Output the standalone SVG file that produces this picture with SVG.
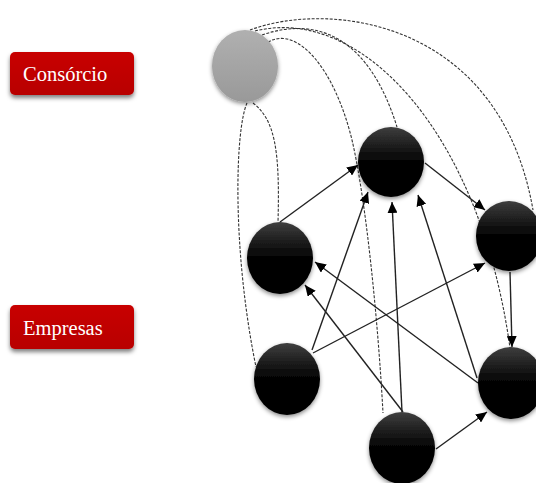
<svg xmlns="http://www.w3.org/2000/svg" width="536" height="483" viewBox="0 0 536 483">
<style>
.lbl{font-family:"Liberation Serif","Times New Roman",serif;font-size:20.5px;fill:#ffffff}
.box{fill:url(#redg);filter:url(#boxsh)}
.dash{fill:none;stroke:#333;stroke-width:1.1;stroke-dasharray:3 1.5}
.edge{fill:none;stroke:#222;stroke-width:1.4;marker-end:url(#arr)}
.blk{fill:url(#blkg);filter:url(#nsh)}
.gry{fill:url(#gryg);filter:url(#nsh)}
</style>
<defs>
<linearGradient id="redg" x1="0" y1="0" x2="0" y2="1">
<stop offset="0" stop-color="#c80000"/>
<stop offset="1" stop-color="#b80000"/>
</linearGradient>
<linearGradient id="blkg" x1="0" y1="0" x2="0" y2="1">
<stop offset="0" stop-color="#3e3e3e"/>
<stop offset="0.2" stop-color="#262626"/>
<stop offset="0.4" stop-color="#0c0c0c"/>
<stop offset="0.55" stop-color="#000"/>
<stop offset="1" stop-color="#000"/>
</linearGradient>
<linearGradient id="gryg" x1="0" y1="0" x2="0" y2="1">
<stop offset="0" stop-color="#b0b0b0"/>
<stop offset="1" stop-color="#999"/>
</linearGradient>
<filter id="nsh" x="-30%" y="-30%" width="160%" height="160%">
<feDropShadow dx="0" dy="2" stdDeviation="2" flood-color="#000" flood-opacity="0.45"/>
</filter>
<filter id="boxsh" x="-20%" y="-30%" width="140%" height="170%">
<feDropShadow dx="0" dy="3" stdDeviation="2" flood-color="#000" flood-opacity="0.5"/>
</filter>
<marker id="arr" markerUnits="userSpaceOnUse" markerWidth="12" markerHeight="10" viewBox="0 0 12 10" refX="11" refY="5" orient="auto">
<path d="M0,0 L11,5 L0,10 z" fill="#000"/>
</marker>
</defs>

<g id="label-consorcio">
<rect class="box" x="10" y="52" width="124" height="43" rx="5"/>
<text class="lbl" x="23" y="81">Consórcio</text>
</g>
<g id="label-empresas">
<rect class="box" x="10" y="305" width="124" height="44" rx="5"/>
<text class="lbl" x="23" y="335">Empresas</text>
</g>

<g id="connectors">
<path class="dash" d="M253,103 C275,120 280,150 278,222"/>
<path class="dash" d="M247,103 C235,130 232,250 256,367"/>
<path class="dash" d="M268,42 C298,25 335,70 352,140 C366,200 378,320 383,413"/>
<path class="dash" d="M262,35 C320,15 370,40 397,127"/>
<path class="dash" d="M255,31 C360,5 480,130 510,348"/>
<path class="dash" d="M250,30 C330,0 500,20 533,210"/>

<path class="edge" d="M280,222 L358,165"/>
<path class="edge" d="M425,163 L485,210"/>
<path class="edge" d="M312,350 L368,192"/>
<path class="edge" d="M313,353 L485,263"/>
<path class="edge" d="M402,412 L392,202"/>
<path class="edge" d="M477,378 L418,195"/>
<path class="edge" d="M478,383 L315,262"/>
<path class="edge" d="M403,412 L305,285"/>
<path class="edge" d="M510,272 L512,347"/>
<path class="edge" d="M436,449 L487,412"/>
</g>

<g id="node-consorcio"><ellipse class="gry" cx="245" cy="66" rx="33" ry="36"/></g>
<g id="node-top"><ellipse class="blk" cx="391" cy="162" rx="33" ry="35"/></g>
<g id="node-left"><ellipse class="blk" cx="280" cy="258" rx="33" ry="36"/></g>
<g id="node-right"><ellipse class="blk" cx="509" cy="236" rx="33" ry="35"/></g>
<g id="node-bottom-left"><ellipse class="blk" cx="287" cy="379" rx="33" ry="36"/></g>
<g id="node-bottom"><ellipse class="blk" cx="402" cy="448" rx="33" ry="36"/></g>
<g id="node-bottom-right"><ellipse class="blk" cx="511" cy="383" rx="33" ry="36"/></g>
</svg>
